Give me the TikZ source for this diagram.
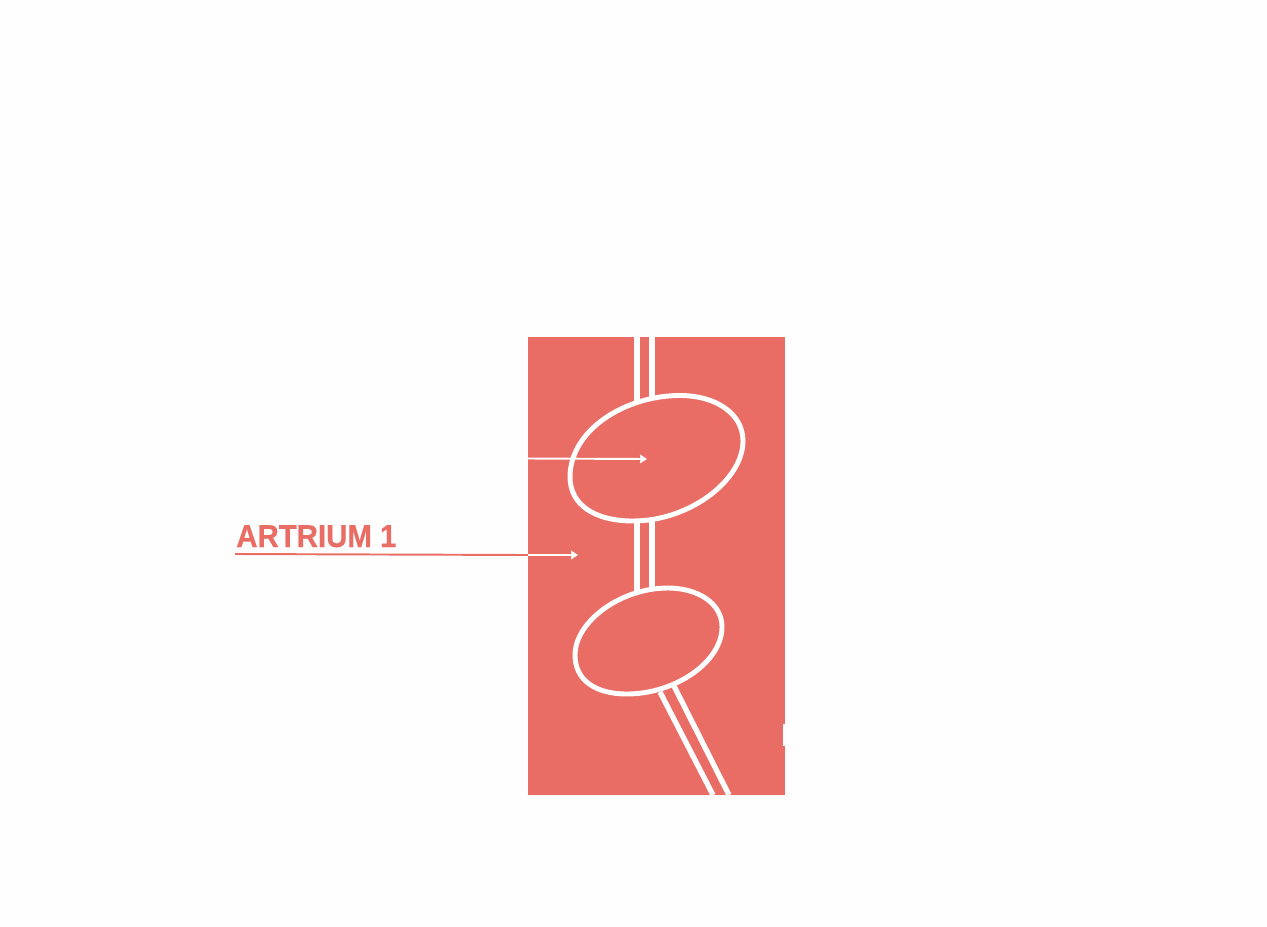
\documentclass[tikz,border=0pt]{standalone}
\usepackage{xcolor}
\usepackage{fontspec}
\setmainfont{Liberation Sans}
\usetikzlibrary{arrows.meta}
\definecolor{salmon}{HTML}{E96D65}
\tikzset{
  tube/.style={white,line width=3pt},
  rim/.style={white,line width=2.8pt},
  pointer/.style={line width=1.1pt,-{Stealth[length=4pt,width=5pt,inset=0.4pt]}}
}
\begin{document}
\begin{tikzpicture}[x=0.02cm,y=-0.02cm]
\useasboundingbox (0,0) rectangle (1267,926);
\fill[fill=white!99.5!black](0,0)rectangle(1267,926);
\fill[salmon](528,337)rectangle(785,795);
\fill[white](783,724)rectangle(785,746);
% tubes
\coordinate (t1a) at (637,337);
\coordinate (t1b) at (637,404);
\coordinate (t2a) at (652,337);
\coordinate (t2b) at (652,399);
\coordinate (t3a) at (637,521);
\coordinate (t3b) at (637,594);
\coordinate (t4a) at (652,520);
\coordinate (t4b) at (652,589);
\coordinate (t5a) at (660,692);
\coordinate (t5b) at (713,795);
\coordinate (t6a) at (674,686);
\coordinate (t6b) at (729,795);
\draw[tube](t1a)--(t1b);
\draw[tube](t2a)--(t2b);
\draw[tube](t3a)--(t3b);
\draw[tube](t4a)--(t4b);
\draw[tube](t5a)--(t5b);
\draw[tube](t6a)--(t6b);
% chambers
\draw[rim](680,395.5)..controls(715,395.5)and(743,413)..(743,441)
..controls(743,480)and(690,521)..(633,521)
..controls(595,521)and(570,505)..(570,477)
..controls(570,430)and(625,395.5)..cycle;
\draw[rim](668,588)..controls(696,588)and(722,602)..(722,627)
..controls(722,662)and(675,694)..(627,694)
..controls(595,694)and(575,680)..(575,655)
..controls(575,622)and(620,588)..cycle;
% pointers
\coordinate (p1a) at (528,458.5);
\coordinate (p1b) at (647,459);
\coordinate (p2a) at (235,554);
\coordinate (p2m) at (528,555);
\coordinate (p2b) at (578,555);
\draw[pointer,white](p1a)--(p1b);
\draw[salmon,line width=1.1pt](p2a)--(p2m);
\draw[pointer,white](p2m)--(p2b);
\node[anchor=base west,inner sep=0pt,text=salmon,xscale=0.93,font=\fontsize{18}{18}\bfseries\addfontfeature{FakeBold=0.6}] (artrium) at (236,547) {ARTRIUM 1};
\end{tikzpicture}
\end{document}
